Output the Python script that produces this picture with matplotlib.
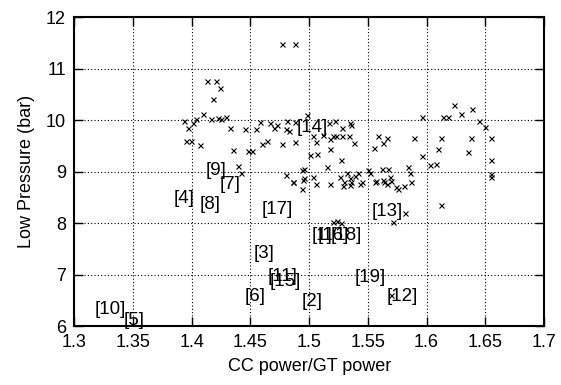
import numpy as np
import matplotlib
matplotlib.use('Agg')
from matplotlib import pyplot as plt

plt.rcParams['font.family'] = ['Liberation Sans', 'DejaVu Sans']

# measured operating points (CC power/GT power, low pressure)
ratio = [
    1.477, 1.488, 1.413, 1.421, 1.424, 1.418, 1.410, 1.393, 1.397, 1.401,
    1.404, 1.395, 1.399, 1.407, 1.416, 1.422, 1.425, 1.429, 1.433, 1.435,
    1.445, 1.448, 1.451, 1.455, 1.458, 1.460, 1.464, 1.467, 1.470, 1.473,
    1.477, 1.480, 1.483, 1.481, 1.488, 1.488, 1.439, 1.442, 1.480, 1.486,
    1.498, 1.522, 1.517, 1.528, 1.535, 1.536, 1.503, 1.506, 1.512, 1.520,
    1.523, 1.528, 1.518, 1.534, 1.538, 1.518, 1.501, 1.507, 1.527, 1.559,
    1.566, 1.563, 1.555, 1.589, 1.596, 1.596, 1.623, 1.614, 1.618, 1.629,
    1.639, 1.645, 1.650, 1.612, 1.638, 1.655, 1.610, 1.635, 1.603, 1.608,
    1.655, 1.655, 1.655, 1.612, 1.582, 1.571, 1.520, 1.524, 1.527, 1.515,
    1.494, 1.496, 1.495, 1.503, 1.506, 1.518, 1.494, 1.526, 1.529, 1.532,
    1.535, 1.536, 1.535, 1.539, 1.542, 1.543, 1.545, 1.550, 1.552, 1.557,
    1.562, 1.563, 1.567, 1.569, 1.570, 1.566, 1.574, 1.576, 1.581, 1.584,
    1.586, 1.587, 1.530, 1.556, 1.564, 1.486, 1.496, 1.570,
]
pressure = [
    11.49, 11.49, 10.76, 10.76, 10.62, 10.41, 10.12, 9.98, 9.84, 9.94,
    10.02, 9.60, 9.60, 9.51, 10.02, 10.04, 10.02, 10.07, 9.85, 9.43,
    9.83, 9.41, 9.41, 9.82, 9.96, 9.54, 9.59, 9.94, 9.84, 9.91,
    9.53, 9.83, 9.80, 9.99, 9.97, 9.57, 9.11, 8.97, 8.93, 8.79,
    10.11, 9.99, 9.94, 9.84, 9.95, 9.90, 9.69, 9.57, 9.71, 9.69,
    9.69, 9.69, 9.63, 9.69, 9.55, 9.45, 9.32, 9.35, 9.23, 9.69,
    9.65, 9.55, 9.46, 9.66, 10.06, 9.31, 10.30, 10.07, 10.07, 10.12,
    10.21, 9.98, 9.87, 9.65, 9.66, 9.66, 9.44, 9.38, 9.13, 9.14,
    9.23, 8.95, 8.90, 8.35, 8.20, 8.03, 8.02, 8.04, 8.00, 9.10,
    9.03, 8.87, 8.84, 8.90, 8.77, 8.76, 8.66, 8.90, 8.72, 8.98,
    8.87, 8.80, 8.74, 8.92, 8.97, 8.76, 8.80, 9.03, 8.97, 8.82,
    9.05, 8.84, 9.05, 8.90, 8.82, 8.77, 8.71, 8.66, 8.72, 9.10,
    8.98, 8.79, 8.79, 8.80, 8.79, 8.80, 9.05, 6.60,
]

# cluster labels: text, x, y
label_text = ['[1]', '[2]', '[3]', '[4]', '[5]', '[6]', '[7]', '[8]', '[9]',
              '[10]', '[11]', '[12]', '[13]', '[14]', '[15]', '[16]', '[17]',
              '[18]', '[19]']
label_x = [1.502, 1.4935, 1.453, 1.3843, 1.342, 1.445, 1.424, 1.407, 1.4117,
           1.317, 1.465, 1.566, 1.553, 1.4895, 1.466, 1.507, 1.4595,
           1.518, 1.539]
label_y = [7.75, 6.47, 7.40, 8.47, 6.10, 6.58, 8.76, 8.37, 9.02,
           6.33, 6.97, 6.58, 8.22, 9.85, 6.87, 7.75, 8.27,
           7.75, 6.95]


def plot_pressure_vs_ratio():
    fig = plt.figure(figsize=(5.61, 3.85), dpi=100)
    ax = fig.add_axes([0.1325, 0.1532, 0.8372, 0.8018])
    ax.plot(ratio, pressure, 'x', c='black', ms=3.6, mew=0.8)
    for t, x, y in zip(label_text, label_x, label_y):
        ax.text(x, y, t, fontsize=13.5, ha='left', va='center',
                color='black')
    ax.set_xlim(1.3, 1.7)
    ax.set_ylim(6, 12)
    ax.set_xticks(np.arange(1.3, 1.701, 0.05))
    ax.set_xticklabels(['1.3', '1.35', '1.4', '1.45', '1.5', '1.55', '1.6',
                        '1.65', '1.7'])
    ax.set_yticks(range(6, 13))
    ax.grid(True, color='black', linestyle=(0, (1, 2)), linewidth=0.8)
    ax.tick_params(direction='in', length=6.5, width=1, top=True,
                   right=True, labelsize=13, pad=6)
    for s in ax.spines.values():
        s.set_linewidth(1.5)
    ax.set_xlabel('CC power/GT power', fontsize=13, labelpad=5)
    ax.set_ylabel('Low Pressure (bar)', fontsize=13, labelpad=8)
    fig.savefig('out.png', dpi=100)


def main():
    plot_pressure_vs_ratio()


if __name__ == "__main__":
    main()
